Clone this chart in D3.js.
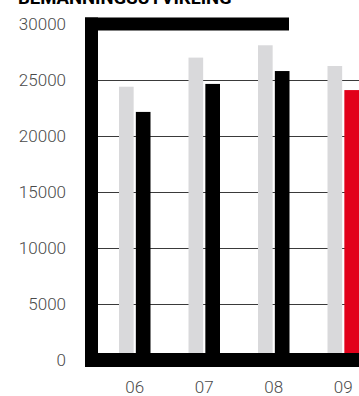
<!DOCTYPE html>
<html>
<head>
<meta charset="utf-8">
<script src="https://cdn.jsdelivr.net/npm/d3@7"></script>
<style>
  body { margin: 0; background: #fff; }
  text { font-family: Roboto, sans-serif; }
</style>
</head>
<body>
<div id="vis"></div>
<script>
var years = ['06', '07', '08', '09'];
var budget = [24400, 27000, 28100, 26250];   // grey bars
var actual = [22150, 24650, 25800, 24100];   // black / red bars
var yTicks = [0, 5000, 10000, 15000, 20000, 25000, 30000];

var width = 359;
var height = 396;

var svg = d3.select('#vis')
  .append('svg')
  .attr('width', width)
  .attr('height', height);

var y = d3.scaleLinear()
  .domain([0, 30000])
  .range([360, 24]);

var x = d3.scaleBand()
  .domain(years)
  .range([100, 378]);

var inner = d3.scaleBand()
  .domain(['budget', 'actual'])
  .range([19, x.bandwidth() - 19])
  .paddingInner(0.13);

// title, cut at the top like in the original
svg.append('text')
  .attr('x', 18)
  .attr('y', 4)
  .attr('font-size', 18.5)
  .attr('font-weight', 'bold')
  .attr('fill', '#000')
  .text('BEMANNINGSUTVIKLING');

// gridlines (half pixel offset keeps them crisp)
svg.selectAll('.grid')
  .data(yTicks.filter(function (d) { return d > 0 && d < 30000; }))
  .enter()
  .append('line')
  .attr('x1', 98)
  .attr('x2', width)
  .attr('y1', function (d) { return Math.round(y(d)) + 0.5; })
  .attr('y2', function (d) { return Math.round(y(d)) + 0.5; })
  .attr('stroke', '#3a3a3a')
  .attr('stroke-width', 1);

// y labels
svg.selectAll('.ylab')
  .data(yTicks)
  .enter()
  .append('text')
  .attr('x', 66)
  .attr('y', function (d) { return y(d) + 6; })
  .attr('text-anchor', 'end')
  .attr('font-size', 17)
  .attr('font-weight', 300)
  .attr('fill', '#4a4a4a')
  .text(function (d) { return d; });

var groups = svg.selectAll('.group')
  .data(years)
  .enter()
  .append('g')
  .attr('transform', function (d) { return 'translate(' + x(d) + ',0)'; });

groups.append('rect')
  .attr('x', inner('budget'))
  .attr('width', inner.bandwidth())
  .attr('y', function (d, i) { return y(budget[i]); })
  .attr('height', function (d, i) { return y(0) - y(budget[i]); })
  .attr('fill', '#d9d9db');

groups.append('rect')
  .attr('x', inner('actual'))
  .attr('width', inner.bandwidth())
  .attr('y', function (d, i) { return y(actual[i]); })
  .attr('height', function (d, i) { return y(0) - y(actual[i]); })
  .attr('fill', function (d, i) { return i === years.length - 1 ? '#e2001a' : '#000'; });

// thick frame
svg.append('line')
  .attr('x1', 85).attr('x2', 289)
  .attr('y1', y(30000)).attr('y2', y(30000))
  .attr('stroke', '#000').attr('stroke-width', 13);

svg.append('line')
  .attr('x1', 91.5).attr('x2', 91.5)
  .attr('y1', y(30000) - 6.5).attr('y2', y(0) + 7)
  .attr('stroke', '#000').attr('stroke-width', 13);

svg.append('line')
  .attr('x1', 85).attr('x2', width)
  .attr('y1', y(0)).attr('y2', y(0))
  .attr('stroke', '#000').attr('stroke-width', 14);

// x labels
svg.selectAll('.xlab')
  .data(years)
  .enter()
  .append('text')
  .attr('x', function (d) { return x(d) + x.bandwidth() / 2; })
  .attr('y', 393)
  .attr('text-anchor', 'middle')
  .attr('font-size', 17)
  .attr('font-weight', 300)
  .attr('fill', '#4a4a4a')
  .text(function (d) { return d; });
</script>
</body>
</html>
